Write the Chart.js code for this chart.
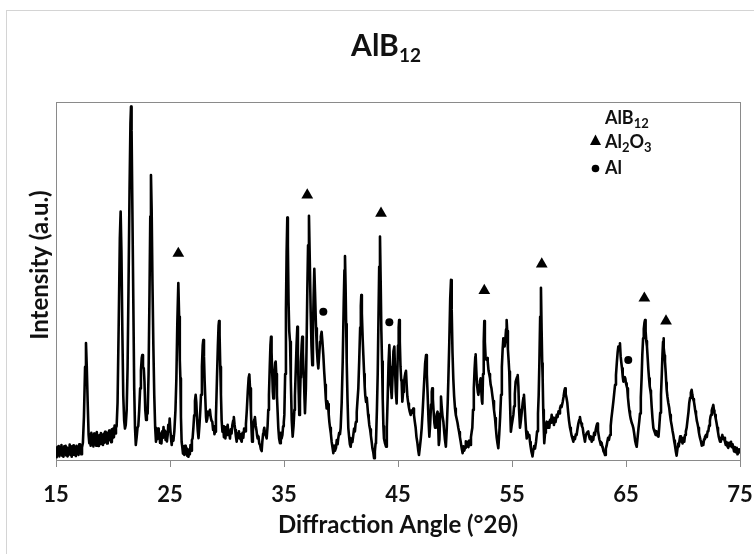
<!DOCTYPE html>
<html>
<head>
<meta charset="utf-8">
<script src="https://cdn.jsdelivr.net/npm/chart.js@4.4.1/dist/chart.umd.min.js"></script>
<style>
html,body{margin:0;padding:0;background:#fff;}
canvas{display:block;}
</style>
</head>
<body>
<canvas id="c" width="754" height="554"></canvas>
<script>
// ---- data ----
const chartTitle = "AlB";
const chartTitleSub = "12";
const xAxisTitle = "Diffraction Angle (°2θ)";
const yAxisTitle = "Intensity (a.u.)";
const xTicks = [15, 25, 35, 45, 55, 65, 75];

// XRD scan: [angle (°2θ), intensity (a.u., 0-100)]
const scan = [
[15.00,2.5],[15.06,0.8],[15.12,3.6],[15.18,1.4],[15.24,3.9],[15.30,1.0],[15.36,3.2],[15.42,1.6],[15.48,4.2],[15.54,1.2],
[15.60,3.4],[15.66,0.9],[15.72,3.8],[15.78,1.8],[15.84,4.0],[15.90,1.3],[15.96,3.5],[16.02,1.0],[16.08,3.1],[16.14,1.7],
[16.20,4.3],[16.26,1.4],[16.32,3.6],[16.38,0.9],[16.44,3.9],[16.50,1.5],[16.56,4.1],[16.62,1.8],[16.68,3.3],[16.74,1.1],
[16.80,4.0],[16.86,1.9],[16.92,3.6],[16.98,1.4],[17.04,4.4],[17.10,2.0],[17.16,3.7],[17.22,1.6],[17.28,3.5],
[17.36,4.8],[17.45,12],[17.55,26],[17.63,32.7],[17.70,26],[17.78,16],[17.86,7],[17.92,4.7],
[17.98,7.2],[18.04,4.0],[18.10,7.6],[18.16,4.6],[18.22,6.8],[18.28,3.8],[18.34,7.4],[18.40,4.4],[18.46,6.4],[18.52,4.0],
[18.58,7.8],[18.64,4.8],[18.70,6.6],[18.76,3.9],[18.82,7.0],[18.88,4.5],[18.94,7.5],[19.00,5.0],[19.06,6.8],[19.12,4.2],
[19.18,7.3],[19.24,4.8],[19.30,7.9],[19.36,5.2],[19.42,7.0],[19.48,4.6],[19.54,7.6],[19.60,5.4],[19.66,8.2],[19.72,5.6],
[19.78,7.4],[19.84,5.0],[19.90,8.6],[19.96,6.0],[20.02,8.8],[20.08,6.4],[20.14,9.6],[20.20,7.4],[20.26,9.0],
[20.32,9.5],[20.40,16],[20.50,38],[20.60,62],[20.67,69.4],[20.74,58],[20.82,36],[20.90,18],[20.98,11],[21.05,8.8],[21.12,9.8],[21.20,14],
[21.28,26],[21.36,48],[21.45,75],[21.53,94],[21.58,98.7],[21.63,92],[21.70,70],[21.78,45],[21.86,20],[21.93,9],[22.00,4.2],
[22.08,6.5],[22.15,9],[22.22,9.5],[22.30,14],[22.38,20],[22.45,25],[22.52,28.5],[22.57,29.3],[22.63,26],[22.70,25.6],[22.76,22],[22.83,14],[22.90,11.2],[22.97,12.6],[23.04,13],
[23.12,24],[23.20,46],[23.27,68],[23.33,79.6],[23.39,70],[23.46,50],[23.54,32],[23.62,18],[23.70,9],[23.77,5.1],
[23.83,8.4],[23.89,5.8],[23.95,8.8],[24.01,6.0],[24.07,7.6],[24.13,4.8],[24.19,6.4],[24.25,4.6],[24.31,8.0],[24.37,6.2],
[24.43,9.2],[24.49,6.8],[24.55,8.2],[24.61,5.6],[24.67,7.8],[24.73,5.2],[24.79,6.8],[24.85,9.8],[24.91,8.0],[24.97,11.6],
[25.03,8.5],[25.09,6.0],[25.15,4.2],[25.22,6.6],[25.30,5.4],[25.38,8],
[25.48,14],[25.56,22.8],[25.64,38],[25.73,49.4],[25.80,40],[25.86,28],[25.91,22.8],[25.96,12],[26.02,5.1],
[26.08,3.6],[26.14,1.8],[26.20,3.8],[26.26,1.4],[26.32,4.0],[26.38,2.0],[26.44,3.4],[26.50,1.2],[26.56,3.0],[26.62,0.9],
[26.68,2.8],[26.74,1.6],[26.80,4.2],[26.86,2.6],[26.92,5.6],[26.98,6.0],
[27.05,9],[27.12,12.5],[27.19,16.5],[27.25,18.2],[27.31,16],[27.38,11],[27.44,8],[27.50,6.1],
[27.58,9.5],[27.66,14],[27.72,18.2],[27.80,26],[27.87,32],[27.92,33.5],[27.98,29],[28.04,22],[28.10,17],[28.16,12],[28.20,10.7],
[28.27,11.5],[28.34,13.5],[28.42,12.6],[28.50,14],[28.57,12],[28.64,11],[28.71,10.7],[28.78,8.4],[28.85,9.5],[28.90,7.2],[28.95,7.9],
[29.03,12],[29.12,22.8],[29.20,32],[29.26,37.5],[29.30,38.8],[29.35,35],[29.41,26],[29.47,18.2],[29.53,11],[29.60,7.9],
[29.67,9.4],[29.73,6.4],[29.80,8.6],[29.86,6.0],[29.93,9.2],[30.00,7.0],[30.06,9.8],[30.12,7.2],[30.19,8.0],[30.26,6.0],
[30.33,8.6],[30.40,7.4],[30.47,9.8],[30.54,11],[30.60,12],[30.66,10],[30.72,8.4],[30.78,6.6],[30.85,5.1],[30.91,7.4],
[30.98,6.2],[31.05,8.0],[31.11,6.0],[31.18,7.2],[31.24,5.4],[31.29,5.1],[31.36,7.6],[31.43,6.2],[31.50,8.8],[31.58,8.0],
[31.66,10],[31.74,14],[31.82,19],[31.90,23],[31.96,23.9],[32.02,20],[32.10,13.5],[32.16,8],[32.20,5.1],
[32.27,8],[32.34,10.4],[32.40,11.4],[32.45,12],[32.52,9.6],[32.58,8.4],[32.64,6.8],[32.69,6],[32.76,6.6],[32.83,4.6],[32.90,4.2],[32.97,3.0],[33.04,2.5],
[33.10,5.2],[33.17,7.4],[33.22,8.2],[33.27,9],[33.34,7.2],[33.41,6.8],[33.48,6],
[33.56,9.5],[33.62,14],[33.68,18.2],[33.75,26],[33.81,32],[33.86,34.4],[33.91,30],[33.97,24],[34.02,19],[34.06,17.2],
[34.12,21],[34.18,25],[34.23,27.2],[34.27,27.5],[34.32,24],[34.38,18],[34.44,13.5],[34.50,9],[34.57,6.0],[34.65,4.7],
[34.72,7.6],[34.79,6.0],[34.86,7],[34.92,9.4],[34.98,10.5],[35.03,12.6],
[35.10,24],[35.17,42],[35.23,58],[35.29,67.7],[35.34,60],[35.40,44],[35.46,36],[35.53,33],[35.60,22],[35.68,11],[35.76,6.5],
[35.84,9.6],[35.91,14],[35.96,18],[36.03,25],[36.10,32],[36.17,37.2],[36.22,30],[36.28,20],[36.34,12.6],
[36.40,17],[36.45,23],[36.49,27.5],[36.55,32],[36.60,34.4],[36.66,30],[36.72,24],[36.75,22.9],[36.80,17],[36.84,13.1],
[36.92,20],[36.98,32],[37.04,46],[37.11,60],[37.19,68.2],[37.26,56],[37.34,41.4],[37.41,32],[37.48,26.5],
[37.54,36],[37.60,46],[37.66,53.4],[37.72,47],[37.81,36.8],[37.88,31],[37.95,27.5],[38.01,25.6],
[38.08,29],[38.16,33],[38.23,34.5],[38.30,35.8],[38.37,33],[38.45,29.3],[38.52,25],[38.60,21],[38.67,17],[38.74,14.4],
[38.80,16.4],[38.86,15.6],[38.92,12.8],[38.98,10.6],[39.04,9],[39.11,7.4],[39.18,5.1],[39.25,3.6],[39.33,1.9],
[39.40,4.0],[39.47,2.6],[39.56,3.4],[39.63,5.6],[39.70,4.4],[39.76,6.1],[39.84,7.6],[39.91,7.2],[39.97,9],
[40.06,16],[40.15,27.5],[40.24,44],[40.30,53],[40.35,57],[40.40,49],[40.45,38],[40.50,27.5],[40.57,17],[40.64,9],
[40.72,6.2],[40.78,4.4],[40.85,3.7],[40.92,6.0],[41.00,5.0],[41.08,7],[41.15,8.8],[41.22,8.0],[41.28,10.2],[41.32,10.7],
[41.38,13.4],[41.45,16.8],[41.52,20],[41.60,28],[41.68,37],[41.74,43],[41.78,46.1],[41.83,41],[41.90,34],[41.96,29.3],
[42.03,24],[42.08,20.5],[42.13,18],[42.20,16.2],[42.26,17.4],[42.31,15.4],[42.38,12.6],[42.43,11.4],[42.48,9.8],[42.55,8.6],
[42.62,6.8],[42.69,5.1],[42.76,3.2],[42.83,2.2],[42.90,0.5],[42.97,2.4],[43.03,4.6],[43.07,5.1],
[43.15,14],[43.22,24],[43.28,38],[43.35,54],[43.42,62.4],[43.48,50],[43.54,36],[43.60,27.5],[43.66,17],[43.72,9.4],[43.77,6],[43.85,4.8],[43.95,3.7],
[44.02,9],[44.10,18],[44.17,27],[44.24,32.1],[44.30,26],[44.35,21],[44.39,20],[44.43,18.6],[44.47,17.3],
[44.53,24],[44.60,30.4],[44.68,31.7],[44.74,25],[44.81,19],[44.88,15.8],
[44.94,24],[45.00,32],[45.06,37],[45.10,39.1],[45.16,33],[45.22,26],[45.28,22.4],[45.32,21.9],[45.38,16.3],
[45.45,19],[45.52,21.5],[45.60,23.5],[45.66,24.5],[45.70,24.9],[45.76,21],[45.82,17.8],[45.90,15.8],[45.96,14.6],[46.03,13.5],
[46.11,12.6],[46.18,13.8],[46.26,13.2],[46.34,14.4],[46.40,12.6],[46.47,10.8],[46.55,9],[46.62,6.4],[46.70,4.8],[46.77,2.8],
[46.84,1.4],[46.92,3.6],[47.00,6.0],[47.08,9],
[47.16,13.4],[47.24,18.5],[47.31,22.8],[47.38,27],[47.46,29.3],[47.53,24],[47.60,18.2],[47.68,11],[47.75,6.5],
[47.82,10],[47.90,15.5],[47.96,19],[48.00,20],[48.06,17],[48.12,13.8],[48.19,10.4],[48.25,9],[48.32,10.6],[48.40,12.8],[48.47,13.5],
[48.53,9],[48.58,4.2],[48.63,5.6],[48.70,13],[48.77,17.7],[48.83,15],[48.90,12.4],[48.98,10.7],[49.05,8.0],[49.12,5.6],[49.20,3.7],
[49.28,9],[49.36,16],[49.42,22.8],[49.50,33],[49.58,45],[49.65,50.3],[49.71,42],[49.78,30],[49.85,22.8],[49.92,18],
[50.00,14.4],[50.07,12.6],[50.14,11.6],[50.22,10.4],[50.29,9],[50.36,7.8],[50.43,6.4],[50.50,5.1],[50.58,3.4],[50.67,1.9],
[50.74,3.8],[50.81,2.6],[50.88,3.4],[50.95,5.2],[51.03,3.8],[51.11,5.1],[51.18,3.6],[51.25,5.4],[51.32,4.2],[51.40,6.4],[51.46,7.8],[51.52,9],
[51.58,14],[51.65,20],[51.72,25.5],[51.78,28.8],[51.81,29.5],[51.87,25],[51.93,21],[52.00,19],[52.05,18.2],
[52.12,20],[52.19,22],[52.25,22.8],[52.31,19],[52.36,16.5],[52.40,15.7],
[52.46,24],[52.52,33],[52.57,38.8],[52.62,33],[52.68,29],[52.75,28],[52.81,28.5],[52.87,27.5],[52.94,25],[53.00,24],
[53.07,22.8],[53.13,21],[53.20,20],[53.27,18.2],[53.34,16.5],[53.42,14],[53.51,11.7],[53.58,9],[53.66,6.2],[53.73,4.6],[53.80,3.3],
[53.88,7.2],[53.96,12],[54.04,18.2],[54.11,26],[54.18,31],[54.24,34],[54.30,32.6],[54.35,31.7],[54.41,33.5],[54.48,36.5],
[54.53,39.1],[54.58,36],[54.64,31],[54.70,28],[54.76,24.7],[54.82,17],[54.87,11],[54.90,7.9],
[54.96,9.4],[55.04,11],[55.12,12.6],[55.18,15],[55.25,18.5],[55.32,21.9],[55.38,22.5],[55.45,23.2],[55.50,23.7],[55.56,20.5],
[55.62,14],[55.70,9],[55.78,11],[55.86,13.5],[55.94,16],[56.00,17.4],[56.05,18.2],[56.11,15],[56.18,11],[56.24,8],[56.29,6],
[56.36,7.8],[56.43,6.6],[56.52,7],[56.58,5.0],[56.64,3.6],[56.70,2.4],[56.76,1.6],[56.80,1.0],[56.87,2.8],[56.94,3.9],[57.02,3.2],[57.11,5.1],
[57.20,8],[57.28,13],[57.34,18],[57.40,27],[57.47,40],[57.54,48.1],[57.60,36],[57.65,27],[57.69,22.8],[57.74,14],[57.79,8.4],[57.83,4.7],
[57.90,7.6],[57.97,9.8],[58.04,10.7],[58.11,9.0],[58.19,10.6],[58.27,9],[58.34,11.2],[58.41,10.4],[58.48,12.6],[58.55,10.5],
[58.61,11.8],[58.68,9.8],[58.75,11.4],[58.82,10.6],[58.92,12.6],[59.00,12.0],[59.08,13.6],[59.15,13.0],[59.21,14.4],[59.28,15.2],
[59.35,14.8],[59.45,16.3],[59.52,17.6],[59.60,19.4],[59.65,20],[59.71,18.4],[59.78,17.4],[59.85,16],[59.92,13.5],[60.00,11],
[60.09,9],[60.16,8.0],[60.23,6.8],[60.30,6.0],[60.38,5.1],[60.45,6.4],[60.52,5.8],[60.60,7.2],[60.67,7],[60.74,8.6],
[60.82,10.2],[60.90,11.2],[60.96,12],[61.02,10.8],[61.08,10.2],[61.14,9.4],[61.20,9],[61.27,7.4],[61.34,6.2],[61.40,5.1],
[61.47,6.8],[61.54,7.4],[61.62,7.8],[61.69,8],[61.76,6.6],[61.84,5.8],[61.92,6.6],[61.99,5.1],[62.06,6.4],[62.13,5.6],
[62.20,7.6],[62.28,7],[62.35,8.6],[62.42,9.6],[62.48,10.2],[62.54,8.2],[62.60,7.0],[62.66,5.8],[62.72,5.1],[62.79,4.2],
[62.86,4.8],[62.93,3.6],[62.96,3.4],[63.03,2.4],[63.10,2.0],[63.16,1.4],[63.23,3.2],[63.30,4.0],[63.36,5.1],[63.43,6.2],
[63.50,5.6],[63.56,6.6],[63.60,7],[63.66,9.6],[63.72,11.6],[63.80,13.8],[63.89,16.3],[63.96,18.5],[64.04,21],[64.12,23.7],
[64.20,27.4],[64.27,30.2],[64.33,31.7],[64.40,31.2],[64.47,32.6],[64.53,29],[64.59,27.2],[64.65,25.6],[64.71,23.4],[64.77,21.9],
[64.83,22.6],[64.89,23.2],[64.94,22.8],[65.00,21.4],[65.06,20.6],[65.11,20],[65.17,17.5],[65.24,15.2],[65.30,13.6],[65.35,12.6],
[65.42,11.4],[65.50,10.4],[65.57,9.8],[65.64,9],[65.72,7.4],[65.80,5.4],[65.87,4.4],[65.94,3.7],
[66.02,6.4],[66.10,9],[66.17,11],[66.23,13],[66.30,17.5],[66.37,23],[66.43,29.3],[66.50,34],[66.56,36.6],[66.62,38.4],
[66.67,39.1],[66.72,36],[66.78,33.2],[66.84,31.7],[66.90,28.6],[66.96,25.4],[67.02,22.8],[67.08,20.6],[67.14,19.4],[67.19,18.2],
[67.25,15],[67.32,11.8],[67.40,9],[67.47,8.2],[67.54,7.6],[67.60,7],[67.67,8.0],[67.75,6.8],[67.85,6.5],
[67.92,9.4],[68.00,13.2],[68.07,18.2],[68.14,24],[68.20,29.6],[68.25,33],[68.28,34],[68.33,31.4],[68.38,29.2],[68.42,27.5],
[68.48,24.6],[68.53,21.6],[68.57,19.6],[68.64,17.6],[68.71,16.0],[68.79,14.6],[68.86,12.6],[68.93,11.0],[69.00,9.8],[69.08,8.2],
[69.15,7],[69.22,5.4],[69.29,4.2],[69.36,2.6],[69.44,1.2],[69.51,3.0],[69.58,4.6],[69.63,3.8],[69.68,5.1],[69.75,6.6],
[69.82,5.2],[69.89,6],[69.96,4.6],[70.04,6.2],[70.11,5.1],[70.18,7.0],[70.25,8.0],[70.32,9],[70.40,11.2],[70.48,13.4],
[70.55,16],[70.62,17.4],[70.69,18.8],[70.76,19.6],[70.82,18.2],[70.89,17.0],[70.96,16.3],[71.02,15.0],[71.08,13.6],[71.14,12.6],
[71.21,11.0],[71.27,10.2],[71.34,9],[71.40,7.6],[71.46,6.6],[71.52,5.8],[71.58,5.1],[71.65,4.0],[71.72,5.0],[71.78,4.2],
[71.85,5.8],[71.92,6.4],[72.02,7],[72.09,6.4],[72.16,8.0],[72.22,8],[72.29,9.6],[72.36,11.0],[72.42,12.2],[72.46,12.6],
[72.52,13.8],[72.58,14.6],[72.62,15.0],[72.66,15.4],[72.72,13.8],[72.76,13.0],[72.81,12.6],[72.87,11.6],[72.94,10.4],[73.01,9],
[73.07,7.8],[73.13,6.6],[73.19,5.8],[73.25,5.1],[73.32,6.2],[73.38,6.0],[73.45,7],[73.52,5.8],[73.60,6.2],[73.68,5.1],
[73.75,4.2],[73.82,5.0],[73.90,3.8],[73.97,3.4],[74.04,4.8],[74.12,3.9],[74.21,5.1],[74.28,3.6],[74.35,4.4],[74.41,3.4],
[74.48,2.4],[74.55,3.6],[74.60,2.2],[74.65,2.5],[74.72,3.4],[74.78,1.6],[74.85,2.0],[74.92,3.0],[75.00,1.8]
];

// phase markers above the peaks: [angle, level]
const al2o3Peaks = [[25.73,57.7],[37.04,74.0],[43.51,68.9],[52.57,47.3],[57.61,54.7],[66.61,45.2],[68.51,38.8]];
const alPeaks = [[38.45,41.4],[44.24,38.5],[65.20,27.9]];

// legend entries
const legendItems = [
  {symbol: null, parts: [["AlB", 0], ["12", 1]]},
  {symbol: "triangle", parts: [["Al", 0], ["2", 1], ["O", 0], ["3", 1]]},
  {symbol: "circle", parts: [["Al", 0]]}
];

// ---- drawing ----
const FONT = "Lato, 'Open Sans', sans-serif";
const TEXT = "#111111";
const AXIS = "#8a8a8a";

function drawRich(ctx, parts, x, y, size, subSize, subDy, align) {
  ctx.save();
  ctx.textBaseline = "alphabetic";
  ctx.textAlign = "left";
  let total = 0;
  const widths = parts.map(p => {
    ctx.font = "bold " + (p[1] ? subSize : size) + "px " + FONT;
    const w = ctx.measureText(p[0]).width;
    total += w;
    return w;
  });
  let cx = align === "center" ? x - total / 2 : x;
  parts.forEach((p, i) => {
    ctx.font = "bold " + (p[1] ? subSize : size) + "px " + FONT;
    ctx.fillStyle = TEXT;
    ctx.fillText(p[0], cx, y + (p[1] ? subDy : 0));
    cx += widths[i];
  });
  ctx.restore();
}

const framePlugin = {
  id: "frame",
  beforeDraw(chart) {
    const c = chart.ctx;
    c.save();
    c.fillStyle = "#ffffff";
    c.fillRect(0, 0, chart.width, chart.height);
    c.strokeStyle = "#d4d4d4";
    c.lineWidth = 1;
    c.strokeRect(6.5, 10.5, chart.width + 10, chart.height + 10);
    c.restore();
  },
  beforeDatasetsDraw(chart) {
    const a = chart.chartArea;
    const c = chart.ctx;
    c.save();
    c.strokeStyle = AXIS;
    c.lineWidth = 1;
    c.strokeRect(Math.round(a.left) + 0.5, Math.round(a.top) + 0.5,
                 Math.round(a.right - a.left), Math.round(a.bottom - a.top));
    c.restore();
  },
  afterDraw(chart) {
    const c = chart.ctx;
    // chart title with subscript
    drawRich(c, [[chartTitle, 0], [chartTitleSub, 1]], 386, 56, 30, 19, 6, "center");
    // y axis title
    c.save();
    c.translate(40, 265);
    c.rotate(-Math.PI / 2);
    c.font = "bold 24px " + FONT;
    c.fillStyle = TEXT;
    c.textAlign = "center";
    c.textBaseline = "middle";
    c.fillText(yAxisTitle, 0, 0);
    c.restore();
    // legend
    const lx = 605, ly = [124, 148, 174];
    legendItems.forEach((it, i) => {
      drawRich(c, it.parts, lx, ly[i], 18, 13, 4, "left");
      c.save();
      c.fillStyle = "#000";
      if (it.symbol === "triangle") {
        c.beginPath();
        c.moveTo(595.5, 134.5);
        c.lineTo(601, 145);
        c.lineTo(590, 145);
        c.closePath();
        c.fill();
      } else if (it.symbol === "circle") {
        c.beginPath();
        c.arc(595.5, 168.5, 3.8, 0, Math.PI * 2);
        c.fill();
      }
      c.restore();
    });
  }
};

const ctx = document.getElementById("c").getContext("2d");
new Chart(ctx, {
  type: "line",
  data: {
    datasets: [
      {
        label: "AlB12",
        data: scan.map(p => ({x: p[0], y: p[1]})),
        borderColor: "#000000",
        borderWidth: 2.6,
        borderJoinStyle: "round",
        pointRadius: 0,
        tension: 0,
        fill: false,
        order: 3
      },
      {
        type: "scatter",
        label: "Al2O3",
        data: al2o3Peaks.map(p => ({x: p[0], y: p[1]})),
        pointStyle: "triangle",
        pointRadius: 6.8,
        backgroundColor: "#000000",
        borderColor: "#000000",
        borderWidth: 0,
        order: 1
      },
      {
        type: "scatter",
        label: "Al",
        data: alPeaks.map(p => ({x: p[0], y: p[1]})),
        pointStyle: "circle",
        pointRadius: 4,
        backgroundColor: "#000000",
        borderColor: "#000000",
        borderWidth: 0,
        order: 2
      }
    ]
  },
  options: {
    responsive: false,
    animation: false,
    devicePixelRatio: 1,
    layout: {padding: {left: 6, right: 14, top: 102, bottom: 0}},
    plugins: {legend: {display: false}, title: {display: false}, tooltip: {enabled: false}},
    scales: {
      x: {
        type: "linear",
        min: 15,
        max: 75,
        afterBuildTicks: s => { s.ticks = xTicks.map(v => ({value: v})); },
        afterFit: s => { s.height = 94; s.paddingLeft = 0; s.paddingRight = 0; },
        grid: {display: true, drawOnChartArea: false, drawTicks: true, tickLength: 7, color: AXIS, lineWidth: 1},
        border: {display: true, color: AXIS, width: 1},
        ticks: {font: {family: FONT, size: 22, weight: "bold"}, color: TEXT, padding: 15, maxRotation: 0, autoSkip: false},
        title: {display: true, text: xAxisTitle, font: {family: FONT, size: 24, weight: "bold"}, color: TEXT, padding: {top: 0, bottom: 14}}
      },
      y: {
        min: 0,
        max: 100,
        afterFit: s => { s.width = 50; },
        grid: {display: false},
        border: {display: true, color: AXIS, width: 1},
        ticks: {display: false},
        title: {display: false}
      }
    }
  },
  plugins: [framePlugin]
});
</script>
</body>
</html>
